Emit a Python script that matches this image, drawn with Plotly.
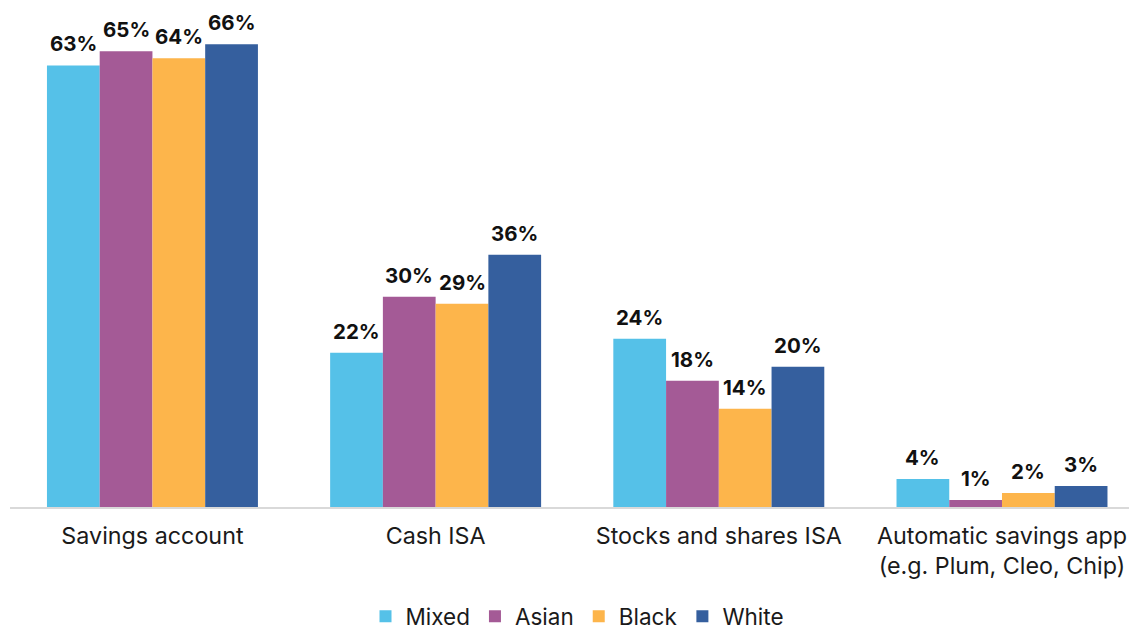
import plotly.graph_objects as go

categories = ["Savings account", "Cash ISA", "Stocks and shares ISA",
              "Automatic savings app<br>(e.g. Plum, Cleo, Chip)"]
series_names = ["Mixed", "Asian", "Black", "White"]
mixed = [63, 22, 24, 4]
asian = [65, 30, 18, 1]
black = [64, 29, 14, 2]
white = [66, 36, 20, 3]
colors = ["#55C1E8", "#A45A96", "#FDB54B", "#355F9E"]

values = [mixed, asian, black, white]
xpos = list(range(len(categories)))
bargap = 0.255
nser = len(series_names)
barw = (1 - bargap) / nser

fig = go.Figure()
for j, (name, vals, col) in enumerate(zip(series_names, values, colors)):
    fig.add_trace(go.Bar(
        x=xpos, y=vals, name=name, marker_color=col,
        marker_line_width=0,
    ))
    off = (j - (nser - 1) / 2) * barw
    for xi, v in zip(xpos, vals):
        fig.add_annotation(
            x=xi + off, y=v, xref="x", yref="y", text=f"<b>{v}%</b>",
            showarrow=False, yanchor="bottom", yshift=8, borderpad=0,
            font=dict(size=20.5, color="#111111", family="Inter"),
        )

fig.update_layout(
    width=1137, height=630,
    barmode="group", bargap=bargap, bargroupgap=0,
    plot_bgcolor="white", paper_bgcolor="white",
    margin=dict(l=2, r=0, t=2, b=119),
    font=dict(family="Inter", size=23, color="#1a1a1a"),
    legend=dict(orientation="h", x=0.5, xanchor="center", y=-0.178, yanchor="top",
                font=dict(size=22.5), traceorder="normal"),
    xaxis=dict(range=[-0.503, 3.505], tickvals=xpos, ticktext=categories,
               showline=True, linecolor="#D9D9D9", linewidth=2, ticks="",
               ticklabelstandoff=7,
               showgrid=False, zeroline=False, tickfont=dict(size=23.3)),
    yaxis=dict(range=[0, 70.9], visible=False, showgrid=False, zeroline=False),
    showlegend=True,
)

fig.write_html("out.html")
